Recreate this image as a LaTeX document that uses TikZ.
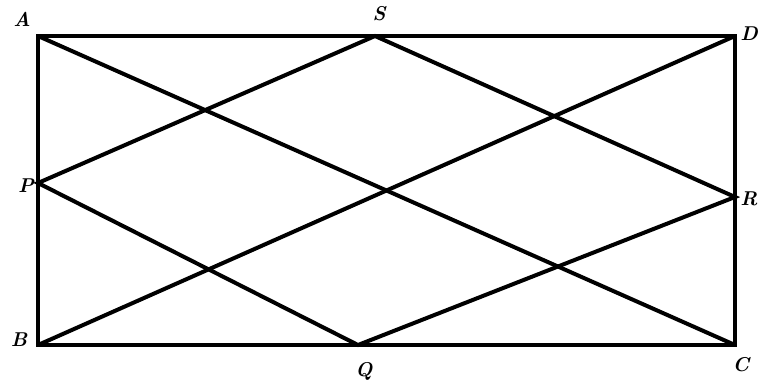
\documentclass[tikz,border=0pt]{standalone}
\tikzset{lbl/.style={font=\fontsize{20}{24}\selectfont\bfseries\itshape, inner sep=1pt}}
\begin{document}
\begin{tikzpicture}[x=1pt,y=-1pt]
          \useasboundingbox (0,0) rectangle (759,383);
          \coordinate (A) at (38,36);
          \coordinate (B) at (38,345);
          \coordinate (C) at (735,345);
          \coordinate (D) at (735,36);
          \coordinate (P) at (38,183);
          \coordinate (Q) at (358,345);
          \coordinate (R) at (735,197);
          \coordinate (S) at (375,36);
          \draw[line width=4.2pt] (A) -- (B) -- (C) -- (D) -- cycle;
          \draw[line width=4pt] (A) -- (C);
          \draw[line width=4pt] (B) -- (D);
          \draw[line width=4pt] (P) -- (S) -- (R) -- (Q) -- cycle;
          % vertex labels
          \node[lbl] (lA) at (22,19) {A};
          \node[lbl] (lS) at (379,14) {S};
          \node[lbl] (lD) at (749,34) {D};
          \node[lbl] (lP) at (26,186) {P};
          \node[lbl] (lR) at (749,199) {R};
          \node[lbl] (lB) at (19,340) {B};
          \node[lbl] (lQ) at (364,371) {Q};
          \node[lbl] (lC) at (741,365) {C};
        \end{tikzpicture}
\end{document}
